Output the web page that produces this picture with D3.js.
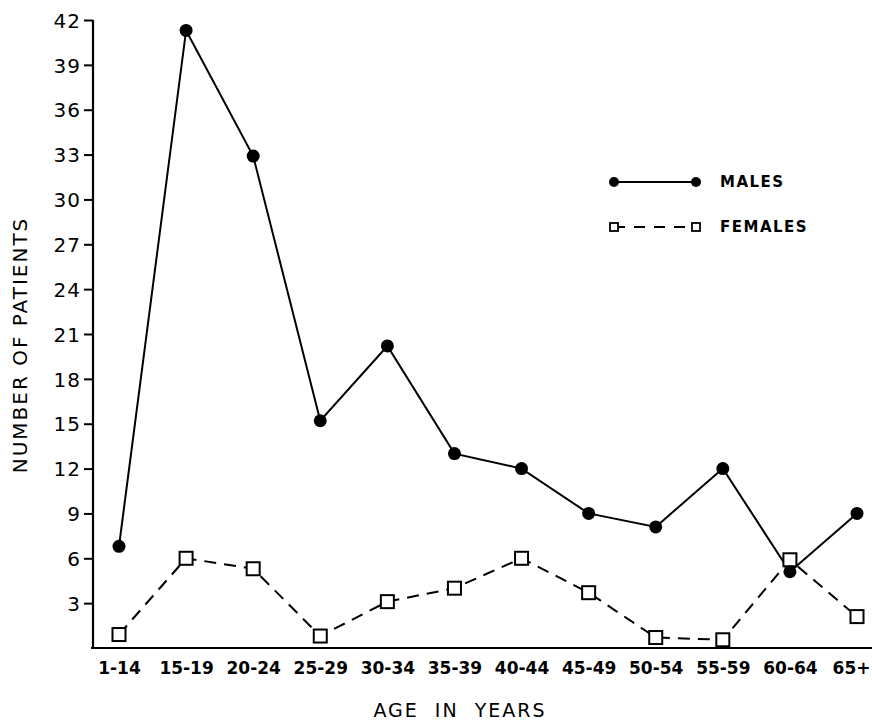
<!DOCTYPE html>
<html>
<head>
<meta charset="utf-8">
<script src="https://cdn.jsdelivr.net/npm/d3@7"></script>
<style>
  body { margin: 0; background: #fff; }
  svg { display: block; }
  .axis text { font-family: "DejaVu Sans", sans-serif; fill: #000; }
</style>
</head>
<body>
<div id="age-chart"></div>
<script>
// data
var ageGroups = ["1-14", "15-19", "20-24", "25-29", "30-34", "35-39", "40-44", "45-49", "50-54", "55-59", "60-64", "65+"];
var males   = [6.8, 41.3, 32.9, 15.2, 20.2, 13, 12, 9, 8.1, 12, 5.1, 9];
var females = [0.9, 6, 5.3, 0.8, 3.1, 4, 6, 3.7, 0.7, 0.55, 5.9, 2.1];
var yTicks  = [3, 6, 9, 12, 15, 18, 21, 24, 27, 30, 33, 36, 39, 42];

var W = 872, H = 720;

var x = d3.scalePoint()
    .domain(ageGroups)
    .range([119, 857]);

var y = d3.scaleLinear()
    .domain([0, 42])
    .range([648, 20]);

var svg = d3.select("#age-chart").append("svg")
    .attr("width", W)
    .attr("height", H);

// y axis
var yAxis = svg.append("g")
    .attr("class", "axis")
    .attr("transform", "translate(93,0)")
    .call(d3.axisLeft(y).tickValues(yTicks).tickSize(9).tickSizeOuter(0).tickPadding(3));
yAxis.select(".domain").attr("stroke", "#000").attr("stroke-width", 2.2)
    .attr("d", "M0," + y(42) + "V" + y(0));
yAxis.selectAll(".tick line").attr("stroke", "#000").attr("stroke-width", 2);
yAxis.selectAll(".tick text")
    .attr("font-size", 20)
    .attr("letter-spacing", 1)
    .attr("dy", "0.36em");

// x axis
var xAxis = svg.append("g")
    .attr("class", "axis")
    .attr("transform", "translate(0," + y(0) + ")")
    .call(d3.axisBottom(x).tickSize(0).tickPadding(14));
xAxis.select(".domain").attr("stroke", "#000").attr("stroke-width", 2.2)
    .attr("d", "M91,0H872");
xAxis.selectAll(".tick text")
    .attr("font-family", "'DejaVu Sans Condensed', 'DejaVu Sans', sans-serif")
    .attr("font-weight", "bold")
    .attr("font-size", 17)
    .attr("dy", "0.71em")
    .attr("dx", function(d) { return d === "65+" ? -6 : 0; });

// axis titles
svg.append("text")
    .attr("transform", "translate(27,345) rotate(-90)")
    .attr("text-anchor", "middle")
    .attr("font-family", "DejaVu Sans, sans-serif")
    .attr("font-size", 20)
    .attr("letter-spacing", 2)
    .text("NUMBER OF PATIENTS");

svg.append("text")
    .attr("x", 460)
    .attr("y", 717)
    .attr("text-anchor", "middle")
    .attr("font-family", "DejaVu Sans, sans-serif")
    .attr("font-size", 19)
    .attr("letter-spacing", 2)
    .attr("word-spacing", 8)
    .text("AGE IN YEARS");

// lines
var line = d3.line()
    .x(function(d, i) { return x(ageGroups[i]); })
    .y(function(d) { return y(d); });

svg.append("path")
    .datum(females)
    .attr("fill", "none")
    .attr("stroke", "#000")
    .attr("stroke-width", 2)
    .attr("stroke-dasharray", "12,8")
    .attr("d", line);

svg.append("path")
    .datum(males)
    .attr("fill", "none")
    .attr("stroke", "#000")
    .attr("stroke-width", 2)
    .attr("d", line);

svg.append("g")
  .selectAll("rect")
  .data(females)
  .enter().append("rect")
    .attr("x", function(d, i) { return x(ageGroups[i]) - 6.5; })
    .attr("y", function(d) { return y(d) - 6.5; })
    .attr("width", 13)
    .attr("height", 13)
    .attr("fill", "#fff")
    .attr("stroke", "#000")
    .attr("stroke-width", 2);

svg.append("g")
  .selectAll("circle")
  .data(males)
  .enter().append("circle")
    .attr("cx", function(d, i) { return x(ageGroups[i]); })
    .attr("cy", function(d) { return y(d); })
    .attr("r", 6.5)
    .attr("fill", "#000");

// legend
var legend = svg.append("g");
legend.append("line")
    .attr("x1", 614).attr("x2", 696).attr("y1", 182).attr("y2", 182)
    .attr("stroke", "#000").attr("stroke-width", 2);
legend.selectAll("circle")
    .data([614, 696])
  .enter().append("circle")
    .attr("cx", function(d) { return d; })
    .attr("cy", 182)
    .attr("r", 5)
    .attr("fill", "#000");
legend.append("line")
    .attr("x1", 614).attr("x2", 696).attr("y1", 227).attr("y2", 227)
    .attr("stroke", "#000").attr("stroke-width", 1.8)
    .attr("stroke-dasharray", "11,9");
legend.selectAll("rect")
    .data([614, 696])
  .enter().append("rect")
    .attr("x", function(d) { return d - 4; })
    .attr("y", 223)
    .attr("width", 8)
    .attr("height", 8)
    .attr("fill", "#fff")
    .attr("stroke", "#000")
    .attr("stroke-width", 1.8);
legend.selectAll("text")
    .data([["MALES", 182], ["FEMALES", 227]])
  .enter().append("text")
    .attr("x", 720)
    .attr("y", function(d) { return d[1]; })
    .attr("dy", "0.36em")
    .attr("font-family", "DejaVu Sans, sans-serif")
    .attr("font-weight", "bold")
    .attr("font-size", 15)
    .attr("letter-spacing", 1.5)
    .text(function(d) { return d[0]; });
</script>
</body>
</html>
